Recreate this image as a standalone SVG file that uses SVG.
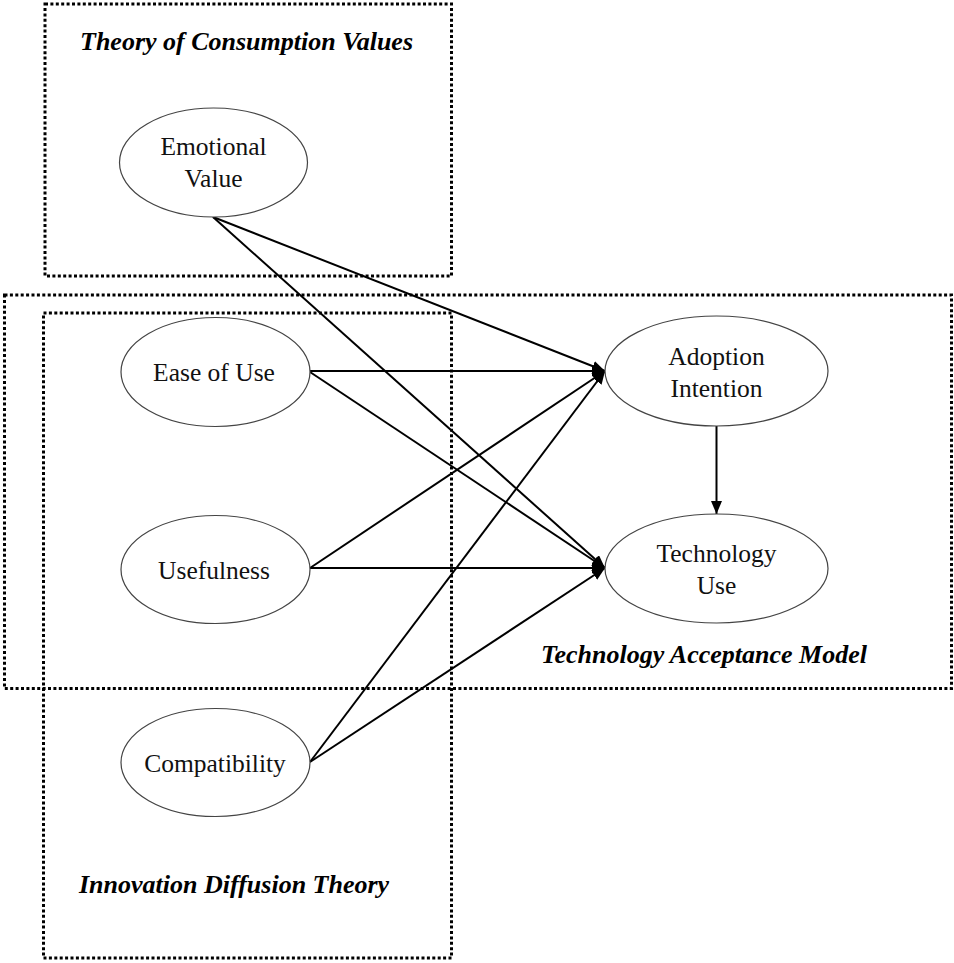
<svg xmlns="http://www.w3.org/2000/svg" width="954" height="963" viewBox="0 0 954 963">
<style>
.box{fill:none;stroke:#000;stroke-width:3;stroke-dasharray:3 2.4}
.node ellipse{fill:#fff;stroke:#444;stroke-width:1.2}
.lbl{font-family:"Liberation Serif","Times New Roman",serif;font-size:25.5px;fill:#111;text-anchor:middle}
.title{font-family:"Liberation Serif","Times New Roman",serif;font-size:26px;font-weight:bold;font-style:italic;fill:#000}
.edge{stroke:#000;stroke-width:2;fill:none;marker-end:url(#ah)}
</style>
<defs>
<marker id="ah" viewBox="0 0 13 11" refX="13" refY="5.5" markerWidth="13" markerHeight="11" markerUnits="userSpaceOnUse" orient="auto">
<path d="M0,0 L13,5.5 L0,11 z" fill="#000"/>
</marker>
</defs>
<rect fill="#fff" x="0" y="0" width="954" height="963"/>
<g id="frames">
<rect class="box" x="45" y="4" width="406.5" height="272"/>
<rect class="box" x="4.5" y="295" width="947" height="393.5"/>
<rect class="box" x="43.5" y="313" width="408" height="645"/>
<text class="title" x="80" y="50">Theory of Consumption Values</text>
<text class="title" x="541" y="663">Technology Acceptance Model</text>
<text class="title" x="79" y="893">Innovation Diffusion Theory</text>
</g>
<g id="connectors">
<line class="edge" x1="213" y1="217" x2="605" y2="371"/>
<line class="edge" x1="213" y1="217" x2="605" y2="568"/>
<line class="edge" x1="310" y1="371" x2="605" y2="371"/>
<line class="edge" x1="310" y1="372" x2="605" y2="568"/>
<line class="edge" x1="310" y1="568" x2="605" y2="371"/>
<line class="edge" x1="310" y1="568" x2="605" y2="568"/>
<line class="edge" x1="310" y1="762" x2="605" y2="371"/>
<line class="edge" x1="310" y1="762" x2="605" y2="568"/>
<line class="edge" x1="716.5" y1="426" x2="716.5" y2="514"/>
</g>
<g id="emotional-value" class="node">
<ellipse cx="213.5" cy="162.5" rx="94" ry="54.5"/>
<text class="lbl" x="213.5" y="155">Emotional</text>
<text class="lbl" x="213.5" y="187">Value</text>
</g>
<g id="ease-of-use" class="node">
<ellipse cx="215.5" cy="372" rx="94.5" ry="54.5"/>
<text class="lbl" x="214" y="381">Ease of Use</text>
</g>
<g id="usefulness" class="node">
<ellipse cx="215.5" cy="569.5" rx="94.5" ry="54"/>
<text class="lbl" x="214" y="579">Usefulness</text>
</g>
<g id="compatibility" class="node">
<ellipse cx="215.5" cy="762.5" rx="94.5" ry="54"/>
<text class="lbl" x="215" y="772">Compatibility</text>
</g>
<g id="adoption-intention" class="node">
<ellipse cx="716.5" cy="371" rx="111.5" ry="55"/>
<text class="lbl" x="716.5" y="365">Adoption</text>
<text class="lbl" x="716.5" y="397">Intention</text>
</g>
<g id="technology-use" class="node">
<ellipse cx="716.5" cy="568.5" rx="111.5" ry="54.5"/>
<text class="lbl" x="716.5" y="562">Technology</text>
<text class="lbl" x="716.5" y="594">Use</text>
</g>
</svg>
